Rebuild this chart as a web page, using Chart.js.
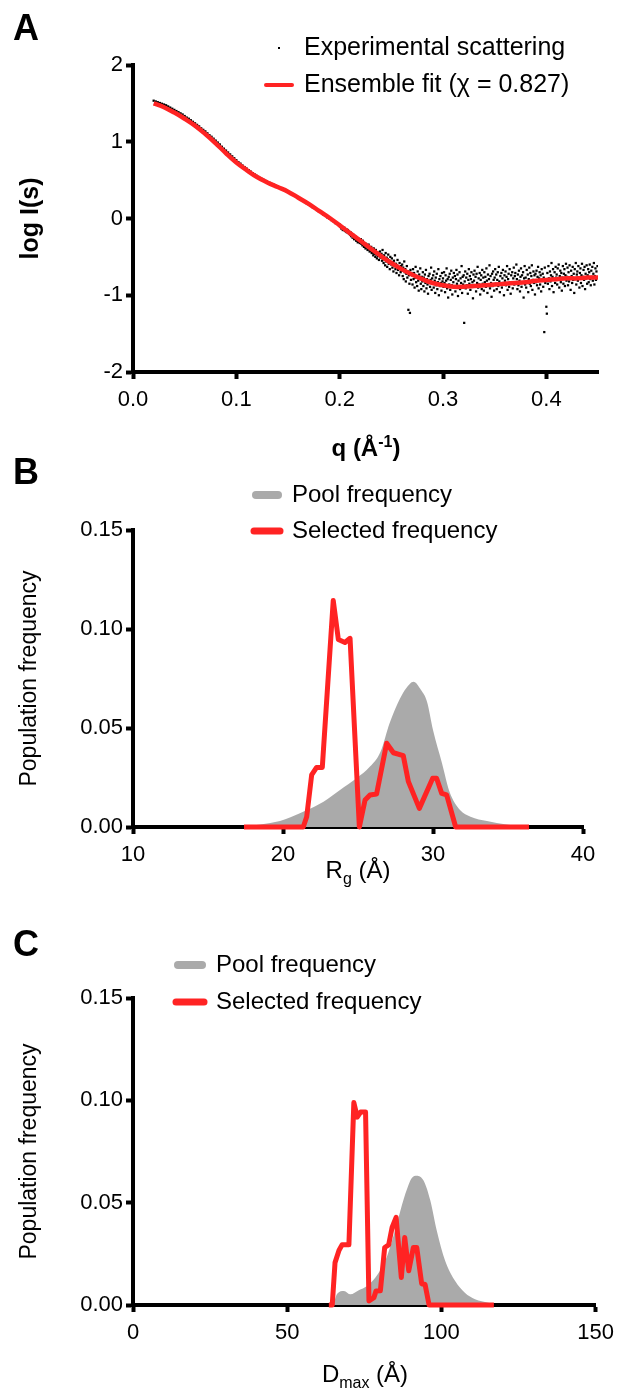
<!DOCTYPE html>
<html>
<head>
<meta charset="utf-8">
<script src="https://cdn.jsdelivr.net/npm/chart.js@4.4.1/dist/chart.umd.min.js"></script>
<style>
  html, body { margin: 0; padding: 0; background: #fff; }
  body { width: 622px; height: 1393px; position: relative; overflow: hidden;
         font-family: "Liberation Sans", Arial, Helvetica, sans-serif; color: #000; }
  canvas { position: absolute; left: 0; }
  .panel { position: absolute; left: 13px; font-weight: bold; font-size: 36px; line-height: 36px; }
  .xtitle { position: absolute; width: 300px; height: 30px; text-align: center; font-size: 24px; line-height: 30px; }
  .xtitle sub, .xtitle sup { font-size: 16px; line-height: 0; }
</style>
</head>
<body>
<canvas id="chartA" width="622" height="460" style="top:0px"></canvas>
<canvas id="chartB" width="622" height="440" style="top:460px"></canvas>
<canvas id="chartC" width="622" height="493" style="top:900px"></canvas>

<div class="panel" style="top:10px">A</div>
<div class="panel" style="top:454px">B</div>
<div class="panel" style="top:926px">C</div>

<div class="xtitle" style="left:216px; top:433px; font-weight:bold">q (Å<sup>-1</sup>)</div>
<div class="xtitle" style="left:208px; top:855px">R<sub>g</sub> (Å)</div>
<div class="xtitle" style="left:215px; top:1359px">D<sub>max</sub> (Å)</div>

<script>
// ---- panel A: SAXS curve ----
const expQ = [
  0.020,0.022,0.024,0.026,0.028,0.030,0.032,0.034,0.036,0.038,
  0.040,0.042,0.044,0.046,0.048,0.050,0.052,0.054,0.056,0.058,
  0.060,0.062,0.064,0.066,0.068,0.070,0.072,0.074,0.076,0.078,
  0.080,0.082,0.084,0.086,0.088,0.090,0.092,0.094,0.096,0.098,
  0.100,0.102,0.104,0.106,0.108,0.110,0.112,0.114,0.116,0.118,
  0.120,0.122,0.124,0.126,0.128,0.130,0.132,0.134,0.136,0.138,
  0.140,0.142,0.144,0.146,0.148,0.150,0.152,0.154,0.156,0.158,
  0.160,0.162,0.164,0.166,0.168,0.170,0.172,0.174,0.176,0.178,
  0.180,0.182,0.184,0.186,0.188,0.190,0.192,0.194,0.196,0.198,
  0.2000,0.2005,0.2010,0.2015,0.2020,0.2025,0.2030,0.2035,0.2040,0.2045,0.2050,0.2055,0.2060,0.2065,0.2070,0.2075,0.2080,0.2085,0.2090,0.2095,
  0.2100,0.2105,0.2110,0.2115,0.2120,0.2125,0.2130,0.2135,0.2140,0.2145,0.2150,0.2155,0.2160,0.2165,0.2170,0.2175,0.2180,0.2185,0.2190,0.2195,
  0.2200,0.2205,0.2210,0.2215,0.2220,0.2225,0.2230,0.2235,0.2240,0.2245,0.2250,0.2255,0.2260,0.2265,0.2270,0.2275,0.2280,0.2285,0.2290,0.2295,
  0.2300,0.2305,0.2310,0.2315,0.2320,0.2325,0.2330,0.2335,0.2340,0.2345,0.2350,0.2355,0.2360,0.2365,0.2370,0.2375,0.2380,0.2385,0.2390,0.2395,
  0.2400,0.2405,0.2410,0.2415,0.2420,0.2425,0.2430,0.2435,0.2440,0.2445,0.2450,0.2455,0.2460,0.2465,0.2470,0.2475,0.2480,0.2485,0.2490,0.2495,
  0.2500,0.2505,0.2510,0.2515,0.2520,0.2525,0.2530,0.2535,0.2540,0.2545,0.2550,0.2555,0.2560,0.2565,0.2570,0.2575,0.2580,0.2585,0.2590,0.2595,
  0.2600,0.2605,0.2610,0.2615,0.2620,0.2625,0.2630,0.2635,0.2640,0.2645,0.2650,0.2655,0.2660,0.2665,0.2670,0.2675,0.2680,0.2685,0.2690,0.2695,
  0.2700,0.2705,0.2710,0.2715,0.2720,0.2725,0.2730,0.2735,0.2740,0.2745,0.2750,0.2755,0.2760,0.2765,0.2770,0.2775,0.2780,0.2785,0.2790,0.2795,
  0.2800,0.2805,0.2810,0.2815,0.2820,0.2825,0.2830,0.2835,0.2840,0.2845,0.2850,0.2855,0.2860,0.2865,0.2870,0.2875,0.2880,0.2885,0.2890,0.2895,
  0.2900,0.2905,0.2910,0.2915,0.2920,0.2925,0.2930,0.2935,0.2940,0.2945,0.2950,0.2955,0.2960,0.2965,0.2970,0.2975,0.2980,0.2985,0.2990,0.2995,
  0.3000,0.3005,0.3010,0.3015,0.3020,0.3025,0.3030,0.3035,0.3040,0.3045,0.3050,0.3055,0.3060,0.3065,0.3070,0.3075,0.3080,0.3085,0.3090,0.3095,
  0.3100,0.3105,0.3110,0.3115,0.3120,0.3125,0.3130,0.3135,0.3140,0.3145,0.3150,0.3155,0.3160,0.3165,0.3170,0.3175,0.3180,0.3185,0.3190,0.3195,
  0.3200,0.3205,0.3210,0.3215,0.3220,0.3225,0.3230,0.3235,0.3240,0.3245,0.3250,0.3255,0.3260,0.3265,0.3270,0.3275,0.3280,0.3285,0.3290,0.3295,
  0.3300,0.3305,0.3310,0.3315,0.3320,0.3325,0.3330,0.3335,0.3340,0.3345,0.3350,0.3355,0.3360,0.3365,0.3370,0.3375,0.3380,0.3385,0.3390,0.3395,
  0.3400,0.3405,0.3410,0.3415,0.3420,0.3425,0.3430,0.3435,0.3440,0.3445,0.3450,0.3455,0.3460,0.3465,0.3470,0.3475,0.3480,0.3485,0.3490,0.3495,
  0.3500,0.3505,0.3510,0.3515,0.3520,0.3525,0.3530,0.3535,0.3540,0.3545,0.3550,0.3555,0.3560,0.3565,0.3570,0.3575,0.3580,0.3585,0.3590,0.3595,
  0.3600,0.3605,0.3610,0.3615,0.3620,0.3625,0.3630,0.3635,0.3640,0.3645,0.3650,0.3655,0.3660,0.3665,0.3670,0.3675,0.3680,0.3685,0.3690,0.3695,
  0.3700,0.3705,0.3710,0.3715,0.3720,0.3725,0.3730,0.3735,0.3740,0.3745,0.3750,0.3755,0.3760,0.3765,0.3770,0.3775,0.3780,0.3785,0.3790,0.3795,
  0.3800,0.3805,0.3810,0.3815,0.3820,0.3825,0.3830,0.3835,0.3840,0.3845,0.3850,0.3855,0.3860,0.3865,0.3870,0.3875,0.3880,0.3885,0.3890,0.3895,
  0.3900,0.3905,0.3910,0.3915,0.3920,0.3925,0.3930,0.3935,0.3940,0.3945,0.3950,0.3955,0.3960,0.3965,0.3970,0.3975,0.3980,0.3985,0.3990,0.3995,
  0.4000,0.4005,0.4010,0.4015,0.4020,0.4025,0.4030,0.4035,0.4040,0.4045,0.4050,0.4055,0.4060,0.4065,0.4070,0.4075,0.4080,0.4085,0.4090,0.4095,
  0.4100,0.4105,0.4110,0.4115,0.4120,0.4125,0.4130,0.4135,0.4140,0.4145,0.4150,0.4155,0.4160,0.4165,0.4170,0.4175,0.4180,0.4185,0.4190,0.4195,
  0.4200,0.4205,0.4210,0.4215,0.4220,0.4225,0.4230,0.4235,0.4240,0.4245,0.4250,0.4255,0.4260,0.4265,0.4270,0.4275,0.4280,0.4285,0.4290,0.4295,
  0.4300,0.4305,0.4310,0.4315,0.4320,0.4325,0.4330,0.4335,0.4340,0.4345,0.4350,0.4355,0.4360,0.4365,0.4370,0.4375,0.4380,0.4385,0.4390,0.4395,
  0.4400,0.4405,0.4410,0.4415,0.4420,0.4425,0.4430,0.4435,0.4440,0.4445,0.4450,0.4455,0.4460,0.4465,0.4470,0.4475,0.4480,0.4485,0.4490,0.4495
];
const expLogI = [
  1.535,1.525,1.515,1.505,1.495,1.485,1.475,1.46,1.445,1.43,
  1.415,1.40,1.385,1.37,1.355,1.335,1.315,1.30,1.28,1.26,
  1.24,1.22,1.20,1.175,1.155,1.135,1.11,1.085,1.065,1.04,
  1.015,0.99,0.965,0.935,0.91,0.885,0.86,0.835,0.81,0.785,
  0.76,0.735,0.715,0.69,0.67,0.65,0.63,0.61,0.59,0.572,
  0.555,0.54,0.524,0.508,0.49,0.475,0.465,0.45,0.44,0.425,
  0.415,0.40,0.39,0.375,0.36,0.35,0.33,0.32,0.30,0.29,
  0.27,0.255,0.235,0.225,0.20,0.185,0.17,0.145,0.135,0.11,
  0.09,0.085,0.055,0.045,0.015,0.00,-0.02,-0.035,-0.06,-0.065,
  -0.08,-0.11,-0.10,-0.13,-0.12,-0.11,-0.15,-0.13,-0.14,-0.12,-0.16,-0.15,-0.17,-0.14,-0.18,-0.16,-0.15,-0.19,-0.17,-0.20,
  -0.21,-0.18,-0.23,-0.20,-0.22,-0.25,-0.21,-0.24,-0.27,-0.23,-0.26,-0.24,-0.29,-0.25,-0.28,-0.31,-0.26,-0.30,-0.28,-0.32,
  -0.30,-0.27,-0.33,-0.31,-0.35,-0.29,-0.34,-0.37,-0.32,-0.36,-0.39,-0.33,-0.38,-0.35,-0.41,-0.37,-0.34,-0.40,-0.43,-0.38,
  -0.42,-0.37,-0.45,-0.40,-0.44,-0.48,-0.39,-0.46,-0.43,-0.50,-0.41,-0.47,-0.52,-0.44,-0.49,-0.45,-0.54,-0.48,-0.43,-0.51,
  -0.50,-0.46,-0.55,-0.41,-0.52,-0.58,-0.48,-0.54,-0.61,-0.45,-0.56,-0.51,-0.63,-0.53,-0.47,-0.59,-0.55,-0.66,-0.50,-0.57,
  -0.60,-0.52,-0.64,-0.57,-0.69,-0.55,-0.62,-0.48,-0.66,-0.59,-0.71,-0.61,-0.54,-0.67,-0.63,-0.74,-0.58,-0.65,-0.70,-0.62,
  -0.68,-0.60,-0.75,-0.64,-0.79,-0.56,-0.70,-0.66,-0.82,-0.72,-0.62,-0.77,-0.69,-1.19,-0.74,-0.85,-1.23,-0.67,-0.80,-0.71,
  -0.74,-0.86,-0.66,-0.79,-0.71,-0.90,-0.77,-0.63,-0.83,-0.75,-0.88,-0.69,-0.81,-0.94,-0.73,-0.78,-0.65,-0.85,-0.92,-0.76,
  -0.82,-0.70,-0.88,-0.77,-0.95,-0.73,-0.84,-0.67,-0.91,-0.79,-0.86,-0.98,-0.75,-0.83,-0.72,-0.89,-0.80,-0.64,-0.93,-0.78,
  -0.85,-0.74,-0.90,-0.69,-0.81,-0.97,-0.77,-0.87,-0.72,-0.92,-0.83,-0.66,-1.00,-0.79,-0.88,-0.75,-0.84,-0.94,-0.71,-0.82,
  -0.78,-0.89,-0.70,-0.84,-0.96,-0.74,-0.81,-0.65,-0.91,-0.79,-1.03,-0.76,-0.86,-0.72,-0.93,-0.80,-0.68,-0.87,-0.99,-0.77,
  -0.83,-0.71,-0.90,-0.75,-0.95,-0.79,-0.67,-0.85,-0.73,-1.01,-0.81,-0.88,-0.70,-0.92,-0.78,-0.84,-0.62,-0.97,-0.76,-0.86,
  -0.74,-1.36,-0.82,-0.69,-0.91,-0.77,-0.87,-0.72,-0.98,-0.80,-0.66,-0.85,-0.75,-0.93,-0.79,-0.70,-0.89,-0.83,-1.04,-0.73,
  -0.81,-0.68,-0.88,-0.76,-0.95,-0.72,-0.84,-0.63,-0.90,-0.78,-0.86,-0.71,-0.99,-0.80,-0.74,-0.92,-0.67,-0.85,-0.77,-0.94,
  -0.70,-0.83,-0.76,-0.89,-0.65,-0.81,-0.97,-0.73,-0.86,-0.79,-0.61,-0.91,-0.75,-0.84,-1.02,-0.72,-0.88,-0.69,-0.80,-0.94,
  -0.77,-0.66,-0.85,-0.73,-0.92,-0.80,-0.70,-0.88,-0.63,-0.82,-0.96,-0.75,-0.86,-0.71,-0.90,-0.78,-0.67,-0.84,-1.00,-0.74,
  -0.81,-0.69,-0.87,-0.76,-0.62,-0.93,-0.79,-0.72,-0.89,-0.66,-0.83,-0.98,-0.74,-0.85,-0.70,-0.91,-0.78,-0.64,-0.86,-0.75,
  -0.71,-0.84,-0.60,-0.79,-0.92,-0.73,-0.87,-0.68,-0.81,-0.95,-0.76,-0.65,-0.89,-0.74,-0.83,-0.70,-1.03,-0.78,-0.62,-0.86,
  -0.77,-0.90,-0.67,-0.82,-0.73,-0.96,-0.79,-0.64,-0.85,-0.71,-0.88,-0.75,-0.61,-0.93,-0.80,-0.69,-0.84,-0.74,-0.99,-0.72,
  -0.83,-0.68,-0.87,-0.76,-0.63,-0.91,-0.78,-0.70,-0.86,-0.74,-0.95,-0.66,-0.81,-0.72,-0.89,-0.77,-1.48,-0.64,-0.84,-0.79,
  -1.15,-1.24,-0.71,-0.85,-0.62,-0.78,-0.92,-0.69,-0.82,-0.74,-0.58,-0.88,-0.76,-0.66,-0.96,-0.80,-0.70,-0.84,-0.63,-0.77,
  -0.73,-0.86,-0.65,-0.79,-0.60,-0.90,-0.75,-0.68,-0.83,-0.71,-0.94,-0.77,-0.62,-0.85,-0.72,-0.66,-0.88,-0.74,-0.59,-0.81,
  -0.76,-0.64,-0.87,-0.70,-0.82,-0.61,-0.78,-0.93,-0.68,-0.75,-0.84,-0.63,-0.80,-0.72,-0.97,-0.66,-0.79,-0.58,-0.86,-0.73,
  -0.69,-0.81,-0.62,-0.77,-0.90,-0.71,-0.65,-0.84,-0.74,-0.59,-0.88,-0.76,-0.67,-0.80,-0.63,-0.92,-0.72,-0.78,-0.61,-0.85,
  -0.74,-0.66,-0.83,-0.70,-0.60,-0.79,-0.87,-0.68,-0.76,-0.63,-0.81,-0.72,-0.58,-0.86,-0.75,-0.65,-0.80,-0.69,-0.77,-0.62
];
const fitQ = [0.02,0.03,0.04,0.05,0.06,0.07,0.08,0.09,0.10,0.11,0.12,0.13,0.14,0.15,0.16,0.17,0.18,0.19,0.20,0.21,0.22,
              0.23,0.24,0.25,0.26,0.27,0.28,0.29,0.30,0.31,0.32,0.33,0.34,0.35,0.36,0.37,0.38,0.39,0.40,0.41,0.42,0.43,0.44,0.45];
const fitLogI = [1.50,1.45,1.38,1.30,1.21,1.10,0.98,0.85,0.73,0.63,0.54,0.47,0.41,0.35,0.27,0.19,0.10,0.01,-0.09,-0.19,-0.29,
                 -0.39,-0.49,-0.58,-0.66,-0.73,-0.79,-0.84,-0.87,-0.89,-0.89,-0.88,-0.87,-0.86,-0.85,-0.84,-0.83,-0.81,-0.80,-0.79,-0.78,-0.78,-0.77,-0.77];

// ---- panel B: Rg distributions ----
const poolRg = [17.4,18.5,19.8,20.5,21.6,22.7,23.8,24.9,25.8,26.5,27.1,27.8,28.2,28.7,29.2,29.6,30.0,30.6,31.1,31.8,32.5,33.6,34.9,36.4];
const poolRgFreq = [0.0003,0.0013,0.0030,0.0049,0.0086,0.0128,0.0187,0.0246,0.0305,0.0380,0.0523,0.0649,0.0700,0.0734,0.0692,0.0633,
                    0.0490,0.0322,0.0178,0.0086,0.0052,0.0030,0.0012,0.0002];
const selRg = [17.4,21.35,21.58,21.91,22.24,22.62,23.35,23.69,24.13,24.47,25.09,25.47,25.8,26.24,26.91,27.36,28.02,28.36,29.09,
               29.98,30.24,30.58,30.91,31.51,36.4];
const selRgFreq = [0,0,0.0052,0.0263,0.0301,0.0301,0.1144,0.0947,0.0932,0.0953,0,0.0136,0.0162,0.0167,0.0423,0.0375,0.0360,0.0229,
                   0.0094,0.0246,0.0246,0.0170,0.0162,0,0];

// ---- panel C: Dmax distributions ----
const poolDmax = [65.0,66.2,68.4,70.5,73.2,75.9,78.6,81.8,84.0,86.1,88.3,90.4,92.0,94.2,96.4,98.5,101.2,104.4,107.6,110.9,115.2,117.0];
const poolDmaxFreq = [0.0005,0.0055,0.0069,0.0052,0.0072,0.0093,0.0134,0.0216,0.0314,0.0428,0.0543,0.0621,0.0632,0.0608,0.0510,
                      0.0363,0.0216,0.0118,0.0060,0.0028,0.0011,0.0002];
const selDmax = [63.5,64.6,65.5,66.8,67.8,70.0,71.6,72.7,73.8,75.4,76.5,78.1,78.8,80.2,81.6,82.9,84.0,85.3,87.0,88.1,89.4,90.9,
                 92.0,93.6,94.7,96.0,117.0];
const selDmaxFreq = [0,0,0.0207,0.0268,0.0294,0.0294,0.0989,0.0918,0.0943,0.0943,0.0020,0.0036,0.0069,0.0070,0.0281,0.0294,0.0379,
                     0.0428,0.0134,0.0330,0.0167,0.0281,0.0281,0.0104,0.0100,0,0];

const FONT = '"Liberation Sans", Arial, Helvetica, sans-serif';
const RED = '#ff2323';
const GREY = '#aaaaaa';

const pts = (xs, ys) => xs.map((x, i) => ({ x: x, y: ys[i] }));

// legend drawn inside the figure, one row per dataset
const panelLegend = {
  id: 'panelLegend',
  afterDraw(chart, args, opts) {
    const ctx = chart.ctx;
    ctx.save();
    ctx.font = opts.size + 'px ' + FONT;
    ctx.textBaseline = 'middle';
    chart.data.datasets.forEach((ds, i) => {
      const y = opts.y + i * opts.gap;
      const x0 = opts.x, x1 = opts.x + opts.swatch;
      if (ds.type === 'scatter') {
        ctx.fillStyle = '#000';
        ctx.fillRect(Math.round((x0 + x1) / 2) - 1, y - 1, 2, 2);
      } else if (ds.fill) {
        ctx.strokeStyle = ds.backgroundColor;
        ctx.lineWidth = 8;
        ctx.lineCap = 'round';
        ctx.beginPath(); ctx.moveTo(x0 + 4, y); ctx.lineTo(x1 - 4, y); ctx.stroke();
      } else {
        ctx.strokeStyle = ds.borderColor;
        ctx.lineWidth = opts.lineWidth;
        ctx.lineCap = 'round';
        ctx.beginPath(); ctx.moveTo(x0 + 2, y); ctx.lineTo(x1 - 2, y); ctx.stroke();
      }
      ctx.fillStyle = '#000';
      ctx.fillText(ds.label, opts.textX, y);
    });
    ctx.restore();
  }
};

function axisStyle() {
  return {
    grid: { drawOnChartArea: false, drawTicks: true, tickLength: 7, tickWidth: 4, tickColor: '#000' },
    border: { display: true, color: '#000', width: 4 }
  };
}

function yAxis(max, min, step, digits, title, bold, titleSize) {
  return Object.assign(axisStyle(), {
    type: 'linear', min: min, max: max,
    afterFit: s => { s.width = 133; },
    ticks: { stepSize: step, includeBounds: false, color: '#000', padding: 3,
             font: { family: FONT, size: 22 }, callback: v => v.toFixed(digits) },
    title: { display: true, text: title, color: '#000', padding: { top: 16, bottom: 0 },
             font: { family: FONT, size: titleSize, weight: bold ? 'bold' : 'normal' } }
  });
}

function xAxis(min, max, step, digits, height) {
  return Object.assign(axisStyle(), {
    type: 'linear', min: min, max: max,
    afterFit: s => { s.height = height; },
    ticks: { stepSize: step, includeBounds: false, color: '#000', padding: 8, maxRotation: 0,
             font: { family: FONT, size: 22 }, callback: v => v.toFixed(digits) }
  });
}

function baseOptions(padTop, padRight, legend) {
  return {
    responsive: false, animation: false, devicePixelRatio: 1,
    layout: { padding: { top: padTop, right: padRight, left: 0, bottom: 0 } },
    plugins: { legend: { display: false }, tooltip: { enabled: false }, panelLegend: legend }
  };
}

// A
const optA = baseOptions(65, 24, { x: 264, swatch: 30, textX: 304, y: 48, gap: 37, lineWidth: 4, size: 25 });
optA.scales = { x: xAxis(0, 0.45, 0.1, 1, 88), y: yAxis(2, -2, 1, 0, 'log I(s)', true, 25) };
new Chart(document.getElementById('chartA'), {
  type: 'scatter',
  data: {
    datasets: [
      { type: 'scatter', label: 'Experimental scattering', data: pts(expQ, expLogI),
        pointStyle: 'rect', pointRadius: 1.6, backgroundColor: '#000', borderWidth: 0, order: 2 },
      { type: 'line', label: 'Ensemble fit (\u03c7 = 0.827)', data: pts(fitQ, fitLogI),
        borderColor: RED, borderWidth: 4.5, tension: 0.4, pointRadius: 0, fill: false, order: 1, clip: false }
    ]
  },
  options: optA,
  plugins: [panelLegend]
});

// B
const optB = baseOptions(70, 39, { x: 252, swatch: 30, textX: 292, y: 35, gap: 36, lineWidth: 7, size: 24 });
optB.scales = { x: xAxis(10, 40, 10, 0, 73), y: yAxis(0.15, 0, 0.05, 2, 'Population frequency', false, 23) };
new Chart(document.getElementById('chartB'), {
  type: 'line',
  data: {
    datasets: [
      { type: 'line', label: 'Pool frequency', data: pts(poolRg, poolRgFreq), fill: 'origin',
        backgroundColor: GREY, borderWidth: 0, pointRadius: 0, cubicInterpolationMode: 'monotone', order: 2 },
      { type: 'line', label: 'Selected frequency', data: pts(selRg, selRgFreq), fill: false,
        borderColor: RED, borderWidth: 5, borderJoinStyle: 'round', pointRadius: 0, tension: 0, order: 1, clip: false }
    ]
  },
  options: optB,
  plugins: [panelLegend]
});

// C
const optC = baseOptions(98, 24, { x: 174, swatch: 32, textX: 216, y: 65, gap: 37, lineWidth: 7, size: 24 });
optC.scales = { x: xAxis(0, 150, 50, 0, 88), y: yAxis(0.15, 0, 0.05, 2, 'Population frequency', false, 23) };
new Chart(document.getElementById('chartC'), {
  type: 'line',
  data: {
    datasets: [
      { type: 'line', label: 'Pool frequency', data: pts(poolDmax, poolDmaxFreq), fill: 'origin',
        backgroundColor: GREY, borderWidth: 0, pointRadius: 0, cubicInterpolationMode: 'monotone', order: 2 },
      { type: 'line', label: 'Selected frequency', data: pts(selDmax, selDmaxFreq), fill: false,
        borderColor: RED, borderWidth: 5, borderJoinStyle: 'round', pointRadius: 0, tension: 0, order: 1, clip: false }
    ]
  },
  options: optC,
  plugins: [panelLegend]
});
</script>
</body>
</html>
